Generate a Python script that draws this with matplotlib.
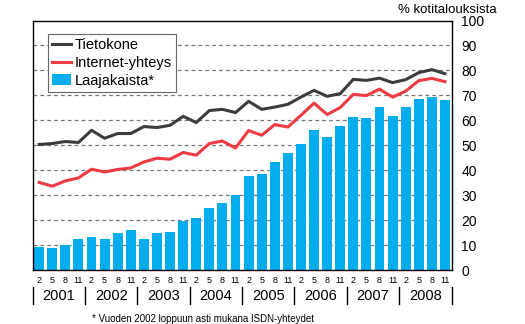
import matplotlib
matplotlib.use('Agg')
from matplotlib import pyplot as plt
import numpy as np

plt.rcParams['font.family'] = ['Liberation Sans', 'DejaVu Sans']

years = ['2001', '2002', '2003', '2004', '2005', '2006', '2007', '2008']
months = ['2', '5', '8', '11']

# % of households, quarterly (months 2, 5, 8, 11)
tietokone = [50.3, 50.7, 51.5, 51.1, 56.0, 52.8, 54.7, 54.7,
             57.5, 57.1, 58.0, 61.6, 59.1, 63.9, 64.4, 63.1,
             67.6, 64.4, 65.3, 66.4, 69.3, 72.0, 69.6, 70.7,
             76.4, 76.0, 76.9, 75.1, 76.3, 79.1, 80.3, 78.7]
internet = [35.1, 33.6, 35.7, 36.9, 40.4, 39.3, 40.3, 40.9,
            43.3, 44.8, 44.4, 47.1, 46.0, 50.7, 51.7, 48.9,
            55.9, 54.0, 58.3, 57.3, 62.0, 66.9, 62.3, 65.1,
            70.4, 69.9, 72.5, 69.3, 71.7, 75.9, 76.8, 75.5]
laajakaista = [9.3, 8.9, 10.0, 12.4, 13.3, 12.4, 14.9, 16.0,
               12.4, 14.9, 15.3, 19.6, 20.8, 24.8, 26.9, 29.9,
               37.7, 38.4, 43.2, 46.8, 50.4, 56.0, 53.2, 57.6,
               61.2, 60.8, 65.2, 61.6, 65.2, 68.4, 69.2, 68.0]

x = np.arange(len(laajakaista))

fig = plt.figure(figsize=(5.25, 3.24), dpi=100)
ax = fig.add_axes([33/525, 1 - 270/324, (451.5 - 33)/525, (270 - 20.5)/324])

ax.bar(x, laajakaista, width=0.76, color='#00AEEF', label='Laajakaista*', zorder=2)
ax.plot(x, tietokone, color='#3c3c3c', lw=2.2, label='Tietokone', zorder=3)
ax.plot(x, internet, color='#EE3A43', lw=2.2, label='Internet-yhteys', zorder=3)

ax.set_xlim(-0.47, 31.5)
ax.set_ylim(0, 100)
ax.set_yticks(np.arange(0, 101, 10))
ax.yaxis.tick_right()
ax.tick_params(axis='y', length=0, pad=7, labelsize=10)
for yv in range(10, 100, 10):
    ax.axhline(yv, color='#777777', lw=0.9, ls=(0, (3, 2.5)), zorder=1)

ax.set_xticks(x)
ax.set_xticklabels(months * len(years), fontsize=6.5)
ax.tick_params(axis='x', length=0, pad=4)
for s in ax.spines.values():
    s.set_linewidth(1.0)

# year labels and separators
trans = ax.get_xaxis_transform()
for i, yr in enumerate(years):
    ax.text(4 * i + 1.5, -0.105, yr, transform=trans, ha='center', va='center', fontsize=10.5)
for i in range(len(years) + 1):
    ax.plot([4 * i - 0.5] * 2, [-0.07, -0.135], transform=trans, color='black', lw=1, clip_on=False)

h, l = ax.get_legend_handles_labels()
leg = ax.legend(h, l, loc='upper left',
                bbox_to_anchor=(0.018, 0.975), fontsize=10.5, handlelength=1.3,
                handletextpad=0.25, labelspacing=0.25, borderpad=0.3, fancybox=False,
                framealpha=1, edgecolor='#666666')
leg.get_frame().set_linewidth(0.8)

fig.text(398/525, 1 - 10/324, '% kotitalouksista', fontsize=9.5, va='center', ha='left')
fig.text(203/525, 1 - 319/324, '* Vuoden 2002 loppuun asti mukana ISDN-yhteydet',
         fontsize=7, ha='center', va='center')

fig.savefig('out.png', dpi=100)
